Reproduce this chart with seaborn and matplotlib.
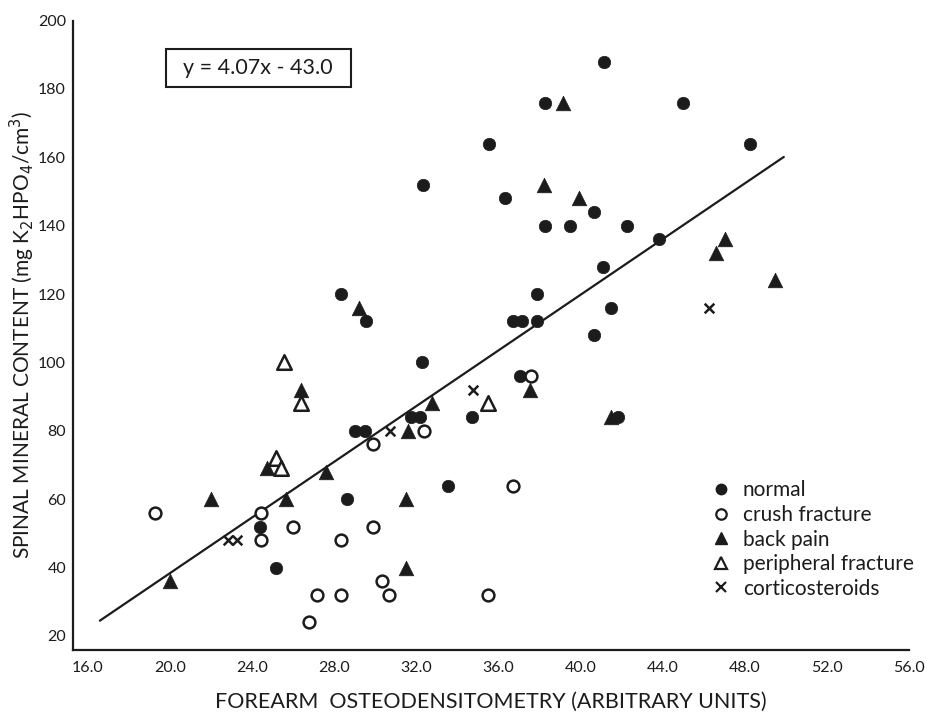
import matplotlib
matplotlib.use("Agg")
import matplotlib.pyplot as plt
from matplotlib.lines import Line2D
from matplotlib.patches import Rectangle
import numpy as np
import pandas as pd
import seaborn as sns

# Forearm osteodensitometry (x) vs spinal mineral content (y), by patient group
normal_x = [41.15, 38.29, 45.0, 35.55, 48.24, 32.30, 36.30, 40.66, 38.29, 39.48, 42.25,
            43.83, 41.07, 28.34, 37.87, 41.47, 29.53, 36.72, 37.13, 37.89, 40.66,
            32.28, 37.04, 31.73, 32.17, 34.69, 41.83, 29.00, 29.49, 33.52, 28.63,
            24.38, 25.14]
normal_y = [188, 176, 176, 164, 164, 152, 148, 144, 140, 140, 140,
            136, 128, 120, 120, 116, 112, 112, 112, 112, 108,
            100, 96, 84, 84, 84, 84, 80, 80, 64, 60,
            52, 40]

crush_x = [19.26, 24.43, 24.43, 25.97, 29.90, 28.34, 30.31, 27.17, 28.32, 30.68,
           26.76, 35.47, 36.72, 29.90, 32.37, 37.58]
crush_y = [56, 56, 48, 52, 52, 48, 36, 32, 32, 32,
           24, 32, 64, 76, 80, 96]

back_x = [39.12, 38.24, 39.93, 47.04, 46.62, 49.48, 29.19, 26.37, 37.53, 32.74,
          31.57, 41.47, 24.70, 27.58, 21.99, 25.63, 31.49, 31.49, 19.99]
back_y = [176, 152, 148, 136, 132, 124, 116, 92, 92, 88,
          80, 84, 69, 68, 60, 60, 60, 40, 36]

periph_x = [25.56, 26.37, 25.14, 25.40, 35.50]
periph_y = [100, 88, 72, 69, 88]

cortico_x = [22.83, 23.24, 30.71, 34.74, 46.26]
cortico_y = [48, 48, 80, 92, 116]

# Regression line y = 4.07x - 43.0
slope, intercept = 4.07, -43.0
line_x = [16.58, 49.9]

x_ticks = [16.0, 20.0, 24.0, 28.0, 32.0, 36.0, 40.0, 44.0, 48.0, 52.0, 56.0]
y_ticks = [20, 40, 60, 80, 100, 120, 140, 160, 180, 200]

groups = ["normal", "crush fracture", "back pain", "peripheral fracture", "corticosteroids"]

df = pd.concat([
    pd.DataFrame({"x": normal_x, "y": normal_y, "group": groups[0]}),
    pd.DataFrame({"x": crush_x, "y": crush_y, "group": groups[1]}),
    pd.DataFrame({"x": back_x, "y": back_y, "group": groups[2]}),
    pd.DataFrame({"x": periph_x, "y": periph_y, "group": groups[3]}),
    pd.DataFrame({"x": cortico_x, "y": cortico_y, "group": groups[4]}),
], ignore_index=True)

sns.set_theme(style="white")
plt.rcParams["font.family"] = ["Lato", "DejaVu Sans"]
ink = "#1c1c1c"

fig = plt.figure(figsize=(9.28, 7.2), dpi=100)
ax = fig.add_axes([73 / 928, 1 - 650 / 720, (909 - 73) / 928, (650 - 20.5) / 720])

lx = np.array(line_x)
sns.lineplot(x=lx, y=slope * lx + intercept, ax=ax, color=ink, linewidth=1.6, zorder=2)

styles = {
    "normal": dict(marker="o", s=80, color=ink, edgecolor=ink, linewidth=0.5),
    "crush fracture": dict(marker="o", s=72, facecolor="white", edgecolor=ink, linewidth=1.8),
    "back pain": dict(marker="^", s=110, color=ink, edgecolor=ink, linewidth=0.5),
    "peripheral fracture": dict(marker="^", s=110, facecolor="white", edgecolor=ink, linewidth=1.8),
    "corticosteroids": dict(marker="x", s=48, color=ink, linewidth=1.8),
}
for g in groups:
    sub = df[df["group"] == g]
    sns.scatterplot(data=sub, x="x", y="y", ax=ax, legend=False, zorder=3, **styles[g])

ax.set_xlim(15.27, 56.0)
ax.set_ylim(15.9, 200)
ax.set_xticks(x_ticks)
ax.set_xticklabels([f"{t:.1f}" for t in x_ticks])
ax.set_yticks(y_ticks)
ax.set_yticklabels([str(t) for t in y_ticks])
ax.tick_params(axis="both", direction="in", length=6, width=1.3, colors=ink,
               labelsize=11.5, labelcolor=ink)
ax.tick_params(axis="x", pad=8)
ax.tick_params(axis="y", pad=5)
for side in ["top", "right"]:
    ax.spines[side].set_visible(False)
for side in ["left", "bottom"]:
    ax.spines[side].set_color(ink)
    ax.spines[side].set_linewidth(1.6)

ax.set_xlabel("FOREARM  OSTEODENSITOMETRY (ARBITRARY UNITS)", fontsize=15.5, color=ink, labelpad=12)
ax.set_ylabel(r"SPINAL MINERAL CONTENT (mg K$_2$HPO$_4$/cm$^3$)", fontsize=15, color=ink, labelpad=1)

# Boxed regression equation
fig.patches.append(Rectangle((165.7 / 928, 1 - 86.7 / 720), 185 / 928, 37.4 / 720,
                             transform=fig.transFigure, facecolor="white", edgecolor=ink,
                             linewidth=1.5, zorder=5))
fig.text(258 / 928, 1 - 68.5 / 720, "y = 4.07x - 43.0", ha="center", va="center",
         fontsize=15.5, color=ink, zorder=6)

handles = [
    Line2D([], [], linestyle="none", marker="o", markersize=7.5, color=ink),
    Line2D([], [], linestyle="none", marker="o", markersize=7.5, markerfacecolor="white",
           markeredgecolor=ink, markeredgewidth=1.6),
    Line2D([], [], linestyle="none", marker="^", markersize=8.5, color=ink),
    Line2D([], [], linestyle="none", marker="^", markersize=8.5, markerfacecolor="white",
           markeredgecolor=ink, markeredgewidth=1.6),
    Line2D([], [], linestyle="none", marker="x", markersize=6.5, color=ink, markeredgewidth=1.6),
]
leg = ax.legend(handles, groups, loc="upper left", bbox_to_anchor=(701 / 928, 1 - 470 / 720),
                bbox_transform=fig.transFigure, frameon=False, fontsize=15,
                handlelength=0.9, handletextpad=0.6, labelspacing=0.22, borderpad=0)
for t in leg.get_texts():
    t.set_color(ink)

fig.savefig("out.png", dpi=100, facecolor="white")
